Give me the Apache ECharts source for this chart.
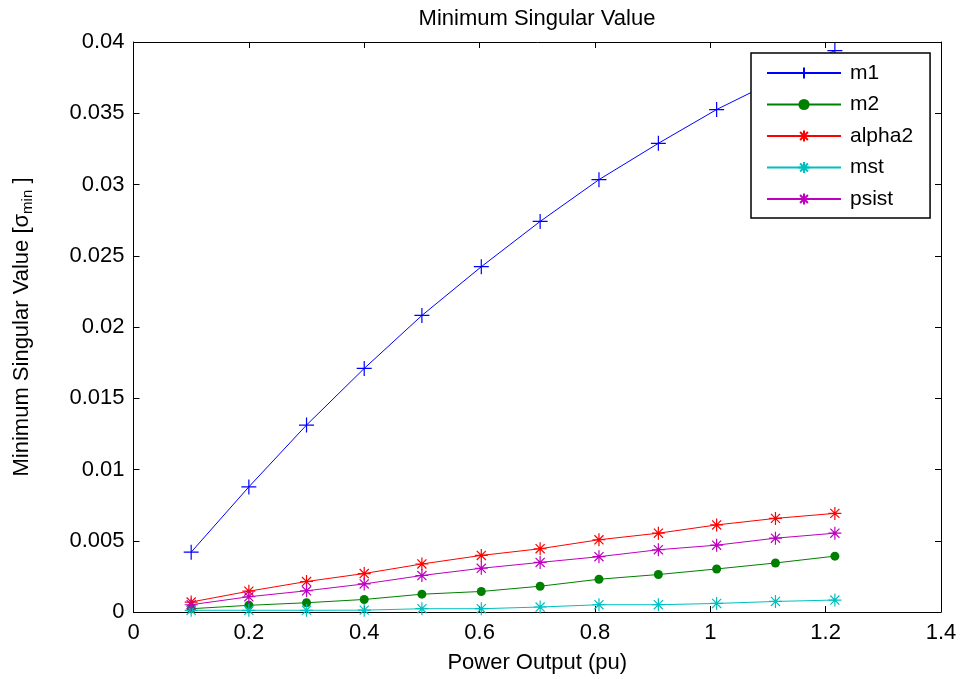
<!DOCTYPE html>
<html>
<head>
<meta charset="utf-8">
<script src="https://cdn.jsdelivr.net/npm/echarts@6/dist/echarts.min.js"></script>
<style>
  html, body { margin: 0; padding: 0; background: #fff; }
  #chart { width: 961px; height: 679px; }
</style>
</head>
<body>
<div id="chart"></div>
<script>
// Operating points (power output, pu)
const powerOutput = [0.1, 0.2, 0.3, 0.4, 0.5, 0.603, 0.705, 0.807, 0.91, 1.011, 1.113, 1.216];

// Minimum singular value for each input/output pairing
const m1     = [0.0042, 0.00878, 0.01312, 0.01709, 0.02081, 0.02423, 0.02741, 0.03034, 0.03289, 0.03526, 0.0373, 0.0394];
const m2     = [0.00023, 0.00047, 0.00065, 0.00088, 0.00125, 0.00144, 0.00181, 0.0023, 0.00263, 0.00302, 0.00344, 0.00392];
const alpha2 = [0.0007, 0.00146, 0.00214, 0.0027, 0.00337, 0.00397, 0.00444, 0.00507, 0.00553, 0.00611, 0.00657, 0.00692];
const mst    = [0.00012, 0.00012, 0.00012, 0.00013, 0.00023, 0.00023, 0.00035, 0.00051, 0.00051, 0.0006, 0.00074, 0.00084];
const psist  = [0.00051, 0.00107, 0.00149, 0.00197, 0.00256, 0.00307, 0.00348, 0.00388, 0.00437, 0.00469, 0.00518, 0.00553];

const seriesNames = ['m1', 'm2', 'alpha2', 'mst', 'psist'];

const FONT = '"Liberation Sans", Arial, Helvetica, sans-serif';

// Marker shapes: plus and asterisk drawn as stroked segments
const PLUS = 'path://M0,-1L0,1M-1,0L1,0';
const STAR = 'path://M0,-1L0,1M-1,0L1,0M-0.7,-0.7L0.7,0.7M-0.7,0.7L0.7,-0.7';

function pairs(ys) {
  return powerOutput.map((x, i) => [x, ys[i]]);
}

function lineSeries(name, ys, color, symbol, size) {
  return {
    name: name,
    type: 'line',
    data: pairs(ys),
    symbol: symbol,
    symbolSize: size,
    showAllSymbol: true,
    lineStyle: { color: color, width: 1 },
    itemStyle: { color: color, borderColor: color, borderWidth: symbol === 'circle' ? 0 : 1.2 },
    emphasis: { disabled: true },
    z: 3
  };
}

// Box frame with inward ticks on all four sides
const axisCommon = {
  axisLine: { show: true, onZero: false, lineStyle: { color: '#000', width: 1 } },
  axisTick: { show: true, inside: true, length: 6, lineStyle: { color: '#000', width: 1 } },
  splitLine: { show: false }
};

const chart = echarts.init(document.getElementById('chart'), null, { renderer: 'canvas' });

chart.setOption({
  animation: false,
  backgroundColor: '#fff',
  textStyle: { fontFamily: FONT },
  title: {
    text: 'Minimum Singular Value',
    top: 3,
    left: 532,
    textAlign: 'center',
    textStyle: { fontFamily: FONT, fontSize: 22, fontWeight: 'normal', color: '#000' }
  },
  grid: { left: 131, right: 20, top: 42, bottom: 63 },
  legend: {
    data: seriesNames,
    orient: 'vertical',
    left: 751,
    top: 53,
    padding: [8, 17, 7, 15],
    itemWidth: 74,
    itemHeight: 14,
    itemGap: 7.5,
    backgroundColor: '#fff',
    borderColor: '#000',
    borderWidth: 1.5,
    borderRadius: 0,
    textStyle: { fontFamily: FONT, fontSize: 21, lineHeight: 24, color: '#000', padding: [0, 0, 0, 4] },
    selectedMode: false
  },
  xAxis: [
    Object.assign({
      type: 'value',
      min: 0,
      max: 1.4,
      interval: 0.2,
      position: 'bottom',
      name: 'Power Output (pu)',
      nameLocation: 'middle',
      nameGap: 40,
      nameTextStyle: { fontFamily: FONT, fontSize: 22, color: '#000' },
      axisLabel: { fontFamily: FONT, fontSize: 22, color: '#000', margin: 10 }
    }, axisCommon),
    Object.assign({
      type: 'value',
      min: 0,
      max: 1.4,
      interval: 0.2,
      position: 'top',
      axisLabel: { show: false }
    }, axisCommon)
  ],
  yAxis: [
    Object.assign({
      type: 'value',
      min: 0,
      max: 0.04,
      interval: 0.005,
      position: 'left',
      name: '{t|Minimum Singular Value [σ}{s|min}{t| ]}',
      nameLocation: 'middle',
      nameRotate: 90,
      nameGap: 100,
      nameTextStyle: {
        fontFamily: FONT, fontSize: 22, color: '#000',
        rich: {
          t: { fontFamily: FONT, fontSize: 22, color: '#000', lineHeight: 24 },
          s: { fontFamily: FONT, fontSize: 15, color: '#000', lineHeight: 18, padding: [12, 0, 0, 0] }
        }
      },
      axisLabel: { fontFamily: FONT, fontSize: 22, color: '#000', margin: 9 }
    }, axisCommon),
    Object.assign({
      type: 'value',
      min: 0,
      max: 0.04,
      interval: 0.005,
      position: 'right',
      axisLabel: { show: false }
    }, axisCommon)
  ],
  series: [
    lineSeries('m1', m1, '#0000ff', PLUS, 15),
    lineSeries('m2', m2, '#008000', 'circle', 9),
    lineSeries('alpha2', alpha2, '#ff0000', STAR, 13),
    lineSeries('mst', mst, '#00bfbf', STAR, 13),
    lineSeries('psist', psist, '#bf00bf', STAR, 13)
  ]
});
</script>
</body>
</html>
